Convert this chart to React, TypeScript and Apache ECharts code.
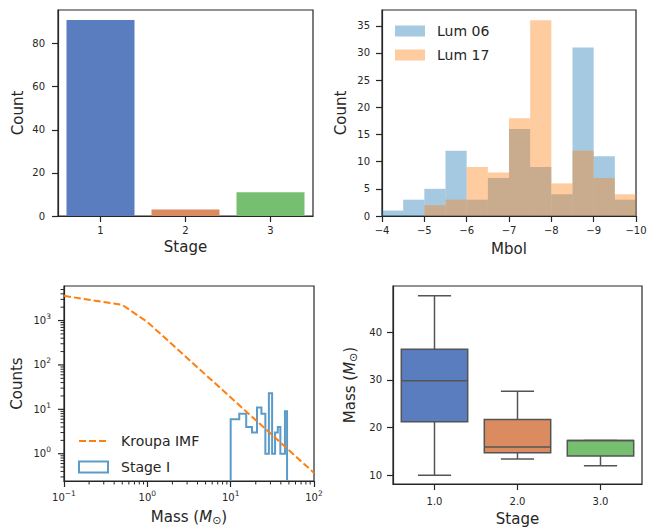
import React, { useEffect, useRef } from 'react';
import * as echarts from 'echarts';

// ---------- data ----------
const STAGES = ['1', '2', '3'];
const STAGE_COUNTS = [91, 3, 11];
const STAGE_COLORS = ['#5a7dc0', '#da8b5f', '#76bf71'];

const MBOL_EDGES = [-4, -4.5, -5, -5.5, -6, -6.5, -7, -7.5, -8, -8.5, -9, -9.5, -10];
const LUM06 = [1, 3, 5, 12, 3, 7, 16, 9, 4, 31, 11, 3];
const LUM17 = [0, 0, 2, 3, 9, 8, 18, 36, 6, 12, 7, 4];
const MBOL_TICKS = [-4, -5, -6, -7, -8, -9, -10];
const COUNT_TICKS_TL = [0, 20, 40, 60, 80];
const COUNT_TICKS_TR = [0, 5, 10, 15, 20, 25, 30, 35];

const KROUPA_MASS = [0.1, 0.5, 1, 100];
const KROUPA_N = [3600, 2250, 930, 0.37];

const STAGE1_EDGES = [10, 12.68, 15.36, 18.04, 20.71, 23.39, 26.07, 28.75, 31.43, 34.11, 36.79, 39.46, 42.14, 44.82, 47.5];
const STAGE1_COUNTS = [6, 8, 4, 3, 11, 8, 1, 23, 1, 3, 4, 1, 1, 9];

const LOG_Y_MAJOR = [1, 10, 100, 1000];
const LOG_X_MINOR = [0.2, 0.3, 0.4, 0.5, 0.6, 0.7, 0.8, 0.9, 2, 3, 4, 5, 6, 7, 8, 9, 20, 30, 40, 50, 60, 70, 80, 90];
const LOG_Y_MINOR = [0.3, 0.4, 0.5, 0.6, 0.7, 0.8, 0.9, 2, 3, 4, 5, 6, 7, 8, 9, 20, 30, 40, 50, 60, 70, 80, 90, 200, 300, 400, 500, 600, 700, 800, 900, 2000, 3000, 4000, 5000];

const BOX_LABELS = ['1.0', '2.0', '3.0'];
// [min, Q1, median, Q3, max]
const BOX_STATS = [
  [10, 21.2, 29.8, 36.4, 47.6],
  [13.4, 14.7, 15.9, 21.7, 27.6],
  [12, 14.05, 17.3, 17.3, 17.3],
];
const MASS_TICKS = [10, 20, 30, 40];

// ---------- styling ----------
const INK = '#262626';
const FONT = 'DejaVu Sans';
const X3_MIN = 0.1, X3_MAX = 100, Y3_MIN = 0.243, Y3_MAX = 6000;
const BLUE_A = 'rgba(31,119,180,0.4)';
const ORANGE_A = 'rgba(255,127,14,0.4)';
const STEP_BLUE = '#5b9bc9';
const BOX_EDGE = '#545454';
const NAME_FS = 15;

const axisLine = { show: true, lineStyle: { color: INK, width: 1.2 } };
const tick = (len: number) => ({ show: true, length: len, lineStyle: { color: INK, width: 1.2 } });
const nameStyle = {
  fontSize: NAME_FS,
  color: INK,
  fontFamily: FONT,
  rich: {
    i: { fontSize: NAME_FS, fontStyle: 'italic', color: INK, fontFamily: FONT },
    s: { fontSize: 11, color: INK, fontFamily: FONT, padding: [7, 0, 0, 0] },
  },
};
const supFmt = (v: number) => {
  const l = Math.log10(v);
  const e = Math.round(l);
  if (Math.abs(l - e) > 1e-6) return '';
  return `{b|10}{s|${e < 0 ? '\u2212' + -e : e}}`;
};
const supRich = {
  b: { fontSize: 10, color: INK, fontFamily: FONT },
  s: { fontSize: 7.5, color: INK, fontFamily: FONT, padding: [0, 0, 8, 0] },
};

function histRect(color: string) {
  return (params: any, api: any) => {
    const p0 = api.coord([api.value(0), api.value(2)]);
    const p1 = api.coord([api.value(1), 0]);
    return {
      type: 'rect',
      shape: { x: Math.min(p0[0], p1[0]), y: p0[1], width: Math.abs(p1[0] - p0[0]), height: p1[1] - p0[1] },
      style: { fill: color },
    };
  };
}

export default function App() {
  const ref = useRef<HTMLDivElement>(null);
  useEffect(() => {
    if (!ref.current) return;
    const chart = echarts.init(ref.current, undefined, { renderer: 'svg' });

    const stepPts: number[][] = [[STAGE1_EDGES[0], Y3_MIN]];
    STAGE1_COUNTS.forEach((c, i) => {
      stepPts.push([STAGE1_EDGES[i], c]);
      stepPts.push([STAGE1_EDGES[i + 1], c]);
    });
    stepPts.push([STAGE1_EDGES[STAGE1_EDGES.length - 1], Y3_MIN]);

    const yTickData = [
      ...LOG_Y_MAJOR.map((v) => [X3_MIN, v, 6]),
      ...LOG_Y_MINOR.map((v) => [X3_MIN, v, 3.5]),
    ];
    const xTickData = LOG_X_MINOR.map((v) => [v, Y3_MIN, 3.5]);

    const option: any = {
      animation: false,
      textStyle: { fontFamily: FONT },
      grid: [
        { left: 58, top: 10, width: 255, height: 206, show: true, borderColor: INK, borderWidth: 1.2 },
        { left: 382, top: 10, width: 254, height: 206, show: true, borderColor: INK, borderWidth: 1.2 },
        { left: 64, top: 286, width: 250, height: 198, show: true, borderColor: INK, borderWidth: 1.2 },
        { left: 393, top: 286, width: 249, height: 198, show: true, borderColor: INK, borderWidth: 1.2 },
      ],
      xAxis: [
        {
          type: 'category', gridIndex: 0, data: STAGES,
          name: 'Stage', nameLocation: 'middle', nameGap: 23, nameTextStyle: nameStyle,
          axisLine, axisTick: { ...tick(6), alignWithLabel: true },
          axisLabel: { color: INK, fontSize: 10, margin: 9 },
          splitLine: { show: false },
        },
        {
          type: 'value', gridIndex: 1, min: -10, max: -4, interval: 1, inverse: true,
          name: 'Mbol', nameLocation: 'middle', nameGap: 25, nameTextStyle: nameStyle,
          axisLine, axisTick: { ...tick(6), customValues: MBOL_TICKS },
          axisLabel: { color: INK, fontSize: 10, margin: 9, customValues: MBOL_TICKS, formatter: (v: number) => String(v).replace('-', '\u2212') },
          splitLine: { show: false },
        },
        {
          type: 'log', logBase: 10, gridIndex: 2, min: X3_MIN, max: X3_MAX,
          name: 'Mass ({i|M}{s|⊙})', nameLocation: 'middle', nameGap: 27, nameTextStyle: nameStyle,
          axisLine, axisTick: tick(6),
          axisLabel: { color: INK, fontSize: 10, margin: 8, formatter: supFmt, rich: supRich },
          splitLine: { show: false }, minorTick: { show: false },
        },
        {
          type: 'category', gridIndex: 3, data: BOX_LABELS,
          name: 'Stage', nameLocation: 'middle', nameGap: 27, nameTextStyle: nameStyle,
          axisLine, axisTick: { ...tick(6), alignWithLabel: true },
          axisLabel: { color: INK, fontSize: 10, margin: 12 },
          splitLine: { show: false },
        },
      ],
      yAxis: [
        {
          type: 'value', gridIndex: 0, min: 0, max: 95.6,
          name: 'Count', nameLocation: 'middle', nameGap: 33, nameTextStyle: nameStyle,
          axisLine, axisTick: { ...tick(6), customValues: COUNT_TICKS_TL },
          axisLabel: { color: INK, fontSize: 10, margin: 13, customValues: COUNT_TICKS_TL },
          splitLine: { show: false },
        },
        {
          type: 'value', gridIndex: 1, min: 0, max: 37.9,
          name: 'Count', nameLocation: 'middle', nameGap: 34, nameTextStyle: nameStyle,
          axisLine, axisTick: { ...tick(6), customValues: COUNT_TICKS_TR },
          axisLabel: { color: INK, fontSize: 10, margin: 12, customValues: COUNT_TICKS_TR },
          splitLine: { show: false },
        },
        {
          type: 'log', logBase: 10, gridIndex: 2, min: Y3_MIN, max: Y3_MAX,
          name: 'Counts', nameLocation: 'middle', nameGap: 40, nameTextStyle: nameStyle,
          axisLine, axisTick: { show: false },
          axisLabel: { color: INK, fontSize: 10, margin: 13, formatter: supFmt, rich: supRich },
          splitLine: { show: false }, minorTick: { show: false },
        },
        {
          type: 'value', gridIndex: 3, min: 8.17, max: 49.65,
          name: 'Mass ({i|M}{s|⊙})', nameLocation: 'middle', nameGap: 34, nameTextStyle: nameStyle,
          axisLine, axisTick: { ...tick(6), customValues: MASS_TICKS },
          axisLabel: { color: INK, fontSize: 10, margin: 11, customValues: MASS_TICKS },
          splitLine: { show: false },
        },
      ],
      legend: [
        {
          data: ['Lum 06', 'Lum 17'], left: 395, top: 24, orient: 'vertical', padding: 0,
          itemWidth: 30, itemHeight: 11, itemGap: 10, icon: 'rect',
          textStyle: { fontSize: 14, color: INK, fontFamily: FONT, padding: [0, 0, 0, 7] },
          selectedMode: false,
        },
        {
          data: [
            { name: 'Kroupa IMF', itemStyle: { opacity: 0 } },
            { name: 'Stage I', icon: 'rect', itemStyle: { color: 'rgba(0,0,0,0)', borderColor: STEP_BLUE, borderWidth: 2 } },
          ],
          left: 78, top: 434, orient: 'vertical', padding: 0,
          itemWidth: 29, itemHeight: 11, itemGap: 12,
          textStyle: { fontSize: 14, color: INK, fontFamily: FONT, padding: [0, 0, 0, 8] },
          selectedMode: false,
        },
      ],
      series: [
        {
          type: 'bar', xAxisIndex: 0, yAxisIndex: 0, barWidth: '80%',
          data: STAGE_COUNTS.map((v, i) => ({ value: v, itemStyle: { color: STAGE_COLORS[i] } })),
        },
        {
          type: 'custom', name: 'Lum 06', xAxisIndex: 1, yAxisIndex: 1,
          itemStyle: { color: BLUE_A },
          data: LUM06.map((c, i) => [MBOL_EDGES[i], MBOL_EDGES[i + 1], c]),
          encode: { x: [0, 1], y: 2 },
          renderItem: histRect(BLUE_A),
        },
        {
          type: 'custom', name: 'Lum 17', xAxisIndex: 1, yAxisIndex: 1,
          itemStyle: { color: ORANGE_A },
          data: LUM17.map((c, i) => [MBOL_EDGES[i], MBOL_EDGES[i + 1], c]),
          encode: { x: [0, 1], y: 2 },
          renderItem: histRect(ORANGE_A),
        },
        {
          type: 'line', name: 'Stage I', xAxisIndex: 2, yAxisIndex: 2,
          data: stepPts, symbol: 'none', z: 2,
          itemStyle: { color: STEP_BLUE },
          lineStyle: { color: STEP_BLUE, width: 2, join: 'miter' },
        },
        {
          type: 'line', name: 'Kroupa IMF', xAxisIndex: 2, yAxisIndex: 2,
          data: KROUPA_MASS.map((m, i) => [m, KROUPA_N[i]]), symbol: 'none', z: 3,
          itemStyle: { color: '#ff7f0e' },
          lineStyle: { color: '#ff7f0e', width: 2, type: [7, 3] },
        },
        {
          type: 'custom', xAxisIndex: 2, yAxisIndex: 2, silent: true,
          data: yTickData,
          renderItem: (params: any, api: any) => {
            const p = api.coord([api.value(0), api.value(1)]);
            const len = api.value(2);
            return {
              type: 'line',
              shape: { x1: p[0] - len, y1: p[1], x2: p[0], y2: p[1] },
              style: { stroke: INK, lineWidth: len > 4 ? 1.2 : 1 },
            };
          },
        },
        {
          type: 'custom', xAxisIndex: 2, yAxisIndex: 2, silent: true,
          data: xTickData,
          renderItem: (params: any, api: any) => {
            const p = api.coord([api.value(0), api.value(1)]);
            const len = api.value(2);
            return {
              type: 'line',
              shape: { x1: p[0], y1: p[1], x2: p[0], y2: p[1] + len },
              style: { stroke: INK, lineWidth: 1 },
            };
          },
        },
        {
          type: 'custom', xAxisIndex: 3, yAxisIndex: 3,
          data: BOX_STATS.map((s, i) => [i, ...s]),
          renderItem: (params: any, api: any) => {
            const x = api.value(0);
            const lo = api.coord([x, api.value(1)]);
            const q1 = api.coord([x, api.value(2)]);
            const med = api.coord([x, api.value(3)]);
            const q3 = api.coord([x, api.value(4)]);
            const hi = api.coord([x, api.value(5)]);
            const bw = api.size([1, 0])[0] * 0.8;
            const cx = lo[0];
            const cap = bw / 4;
            const ls = { stroke: BOX_EDGE, lineWidth: 1.5 };
            return {
              type: 'group',
              children: [
                { type: 'line', shape: { x1: cx, y1: q1[1], x2: cx, y2: lo[1] }, style: ls },
                { type: 'line', shape: { x1: cx, y1: q3[1], x2: cx, y2: hi[1] }, style: ls },
                { type: 'line', shape: { x1: cx - cap, y1: lo[1], x2: cx + cap, y2: lo[1] }, style: ls },
                { type: 'line', shape: { x1: cx - cap, y1: hi[1], x2: cx + cap, y2: hi[1] }, style: ls },
                {
                  type: 'rect',
                  shape: { x: cx - bw / 2, y: q3[1], width: bw, height: q1[1] - q3[1] },
                  style: { fill: STAGE_COLORS[params.dataIndex], stroke: BOX_EDGE, lineWidth: 1.5 },
                },
                { type: 'line', shape: { x1: cx - bw / 2, y1: med[1], x2: cx + bw / 2, y2: med[1] }, style: ls },
              ],
            };
          },
        },
      ],
    };
    chart.setOption(option);
    return () => chart.dispose();
  }, []);
  return <div ref={ref} style={{ position: 'absolute', left: 0, top: 0, width: 663, height: 527 }} />;
}
